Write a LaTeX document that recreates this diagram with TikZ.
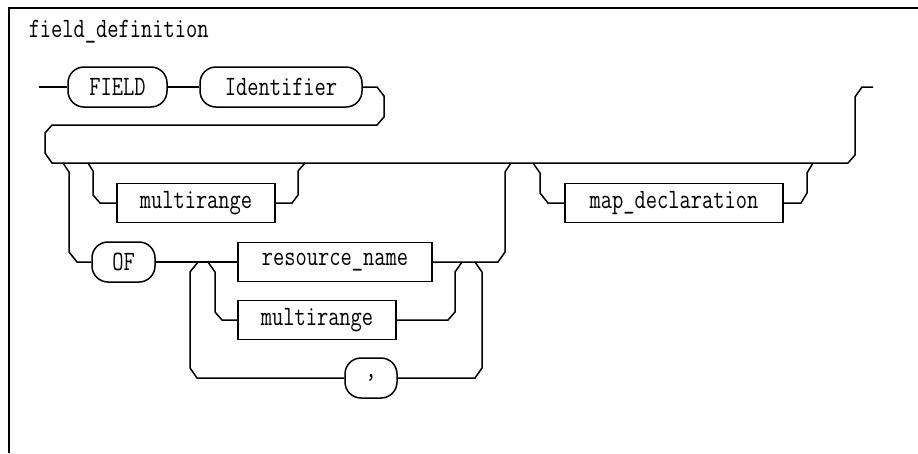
\documentclass[tikz,border=0pt]{standalone}
\usepackage{fontspec}
% narrow typewriter face for all labels
\newfontfamily\rrfont[FakeStretch=0.78]{Latin Modern Mono}
\begin{document}
\begin{tikzpicture}[x=1pt,y=-1pt,
  line width=1.5pt,
  every node/.style={font=\fontsize{28pt}{32pt}\rrfont, inner sep=0pt},
  term/.style={draw, rounded corners=16pt, minimum height=40pt},
  nonterm/.style={draw, rectangle, minimum height=39pt},
  rail/.style={line join=miter}]
\useasboundingbox (0,0) rectangle (918,453);
% frame
\draw[line width=2pt] (9,453) -- (9,8) -- (918,8);
\node[anchor=base west] (title) at (28,37) {field\_definition};

% first row
\coordinate (start) at (39,87);
\node[term, minimum width=99pt] (field) at (117.5,87) {FIELD};
\node[term, minimum width=162pt] (ident) at (281,87) {Identifier};
\coordinate (stop) at (873,87);

% second row items
\node[nonterm, minimum width=158pt] (mrA) at (196,203) {multirange};
\node[term, minimum width=63pt] (of) at (123.5,262) {OF};
\node[nonterm, minimum width=194pt] (rname) at (335,262) {resource\_name};
\node[nonterm, minimum width=158pt] (mrB) at (317,320) {multirange};
\node[term, minimum width=52pt] (comma) at (371,378) {,};
\node[nonterm, minimum width=218pt] (mdecl) at (674,203) {map\_declaration};

% main track
\draw[rail] (start) -- (field);
\draw[rail] (field) -- (ident);
\draw[rail] (ident.east) -- (377,87) -- (384,96) -- (384,117) -- (377,125)
  -- (52,125) -- (45,133) -- (45,153) -- (52,163) -- (848,163)
  -- (855,155) -- (855,97) -- (862,87) -- (stop);

% optional multirange
\draw[rail] (88,163) -- (93,171) -- (93,195) -- (100,203) -- (mrA.west);
\draw[rail] (mrA.east) -- (292,203) -- (298,195) -- (298,171) -- (305,163);

% OF branch
\draw[rail] (63,163) -- (69,172) -- (69,252) -- (77,262) -- (of.west);
\draw[rail] (of.east) -- (rname.west);
\draw[rail] (rname.east) -- (498,262) -- (505,252) -- (505,172) -- (511,163);

% choice between resource_name and multirange
\draw[rail] (208,262) -- (215,272) -- (215,312) -- (222,320) -- (mrB.west);
\draw[rail] (mrB.east) -- (448,320) -- (455,312) -- (455,272) -- (462,262);

% repetition with comma
\draw[rail] (475,262) -- (482,272) -- (482,368) -- (475,378) -- (comma.east);
\draw[rail] (comma.west) -- (197,378) -- (190,368) -- (190,272) -- (198,262);

% optional map_declaration
\draw[rail] (533,163) -- (540,173) -- (540,193) -- (548,203) -- (mdecl.west);
\draw[rail] (mdecl.east) -- (801,203) -- (807,193) -- (807,173) -- (813,163);
\end{tikzpicture}
\end{document}
